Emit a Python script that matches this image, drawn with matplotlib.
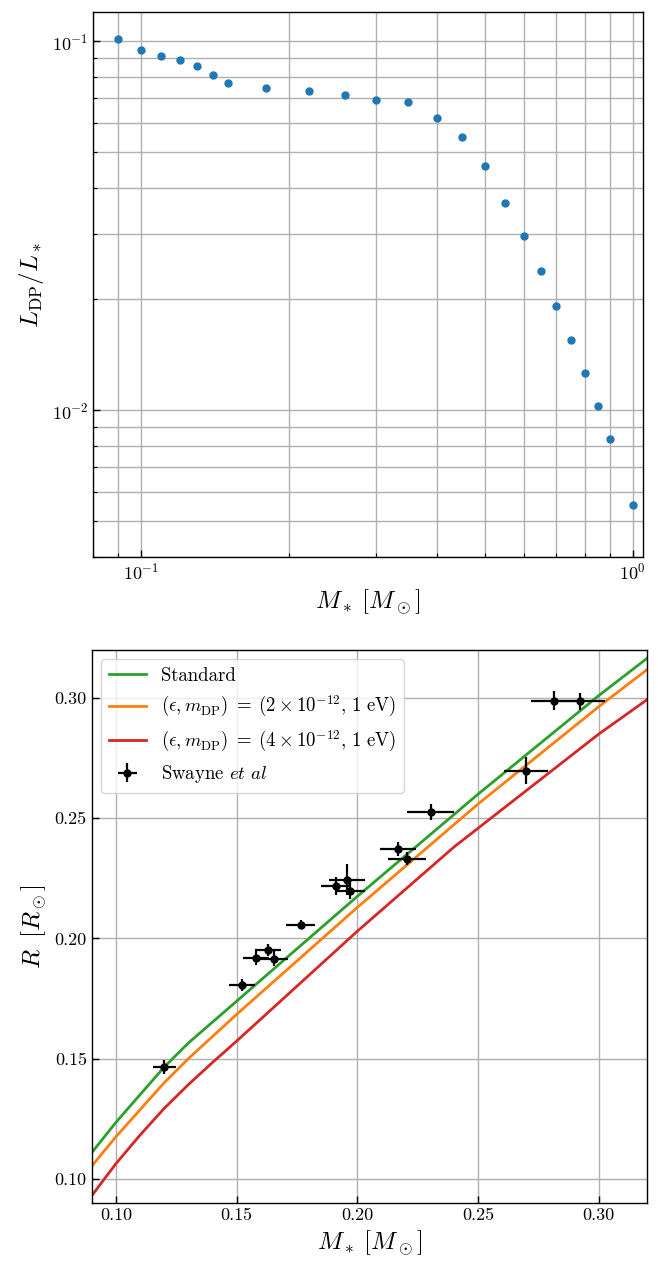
import numpy as np
import matplotlib
matplotlib.use('Agg')
import matplotlib.pyplot as plt
from matplotlib.ticker import NullFormatter

plt.rcParams['font.family'] = 'serif'
plt.rcParams['font.serif'] = ['cmr10', 'DejaVu Serif']
plt.rcParams['mathtext.fontset'] = 'cm'
plt.rcParams['axes.formatter.use_mathtext'] = True
plt.rcParams['axes.unicode_minus'] = False

# top panel: dark photon luminosity fraction vs mass
mass_top = [0.09, 0.10, 0.11, 0.12, 0.13, 0.14, 0.15, 0.18, 0.22, 0.26, 0.30, 0.35,
            0.40, 0.45, 0.50, 0.55, 0.60, 0.65, 0.70, 0.75, 0.80, 0.85, 0.90, 1.00]
l_ratio = [0.1014, 0.0947, 0.0911, 0.0889, 0.0855, 0.0809, 0.0772, 0.0748, 0.0733,
           0.0715, 0.0692, 0.0686, 0.0618, 0.0551, 0.0460, 0.0365, 0.0297, 0.0239,
           0.0192, 0.0155, 0.0126, 0.01027, 0.00837, 0.00555]

# bottom panel: mass-radius curves
m_std = [0.09, 0.10, 0.12, 0.13, 0.15, 0.20, 0.25, 0.30, 0.32]
r_std = [0.1109, 0.1235, 0.1465, 0.1565, 0.1739, 0.2175, 0.2600, 0.3010, 0.3165]
m_dp2 = [0.09, 0.10, 0.12, 0.13, 0.15, 0.20, 0.25, 0.30, 0.32]
r_dp2 = [0.1053, 0.1175, 0.1400, 0.1500, 0.1684, 0.2129, 0.2559, 0.2964, 0.3118]
m_dp4 = [0.09, 0.10, 0.11, 0.12, 0.13, 0.14, 0.15, 0.20, 0.24, 0.30, 0.32]
r_dp4 = [0.0930, 0.1063, 0.1182, 0.1293, 0.1392, 0.1484, 0.1573, 0.2030, 0.2380,
         0.2850, 0.2993]

# Swayne et al measurements
sw_m = [0.1200, 0.1522, 0.1581, 0.1631, 0.1653, 0.1766, 0.1913, 0.1957, 0.1969,
        0.2168, 0.2207, 0.2304, 0.2698, 0.2814, 0.2924]
sw_r = [0.1465, 0.1806, 0.1919, 0.1951, 0.1916, 0.2058, 0.2217, 0.2245, 0.2198,
        0.2371, 0.2332, 0.2526, 0.2698, 0.2989, 0.2987]
sw_merr = [0.0047, 0.0053, 0.0053, 0.0055, 0.0058, 0.0060, 0.0062, 0.0076, 0.0062,
           0.0076, 0.0078, 0.0098, 0.0090, 0.0093, 0.0101]
sw_rerr = [0.0028, 0.0026, 0.0028, 0.0026, 0.0031, 0.0020, 0.0038, 0.0065, 0.0033,
           0.0030, 0.0028, 0.0033, 0.0055, 0.0040, 0.0035]

fig = plt.figure(figsize=(6.58, 12.62), dpi=100)

ax1 = fig.add_axes([0.1418, 0.5586, 0.8354, 0.4319])
ax1.plot(mass_top, l_ratio, 'o', color='C0', markersize=5)
ax1.set_xscale('log')
ax1.set_yscale('log')
ax1.set_xlim(0.08, 1.05)
ax1.set_ylim(4e-3, 0.12)
ax1.grid(True, which='both', color='#b0b0b0', linewidth=1.0)
ax1.set_axisbelow(True)
ax1.xaxis.set_minor_formatter(NullFormatter())
ax1.yaxis.set_minor_formatter(NullFormatter())
ax1.set_xlabel(r'$M_* \; [M_\odot]$', fontsize=18)
ax1.set_ylabel(r'$L_{\rm DP}/L_*$', fontsize=18)

ax2 = fig.add_axes([0.1394, 0.0468, 0.8439, 0.4382])
ax2.plot(m_std, r_std, color='C2', linewidth=2.0, label='Standard')
ax2.plot(m_dp2, r_dp2, color='C1', linewidth=2.0,
         label=r'$(\epsilon, m_{\rm DP})\;=\;(2\times 10^{-12},\, 1~{\rm eV})$')
ax2.plot(m_dp4, r_dp4, color='C3', linewidth=2.0,
         label=r'$(\epsilon, m_{\rm DP})\;=\;(4\times 10^{-12},\, 1~{\rm eV})$')
ax2.errorbar(sw_m, sw_r, xerr=sw_merr, yerr=sw_rerr, fmt='o', color='black',
             markersize=5, elinewidth=1.6, capsize=0, label=r'Swayne $et\ al$')
ax2.set_xlim(0.09, 0.32)
ax2.set_ylim(0.09, 0.32)
ax2.set_xticks([0.10, 0.15, 0.20, 0.25, 0.30])
ax2.set_yticks([0.10, 0.15, 0.20, 0.25, 0.30])
ax2.set_xticklabels(['0.10', '0.15', '0.20', '0.25', '0.30'])
ax2.set_yticklabels(['0.10', '0.15', '0.20', '0.25', '0.30'])
ax2.grid(True, color='#b0b0b0', linewidth=1.0)
ax2.set_axisbelow(True)
ax2.set_xlabel(r'$M_* \; [M_\odot]$', fontsize=18)
ax2.set_ylabel(r'$R \;\; [R_\odot]$', fontsize=18)
ax2.legend(loc='upper left', fontsize=13.5, framealpha=0.8)

for ax in (ax1, ax2):
    ax.tick_params(which='major', direction='in', length=5, width=1.0, labelsize=13)
    ax.tick_params(which='minor', direction='in', length=3, width=0.8)
    for s in ax.spines.values():
        s.set_linewidth(1.0)

fig.savefig('out.png', dpi=100)
